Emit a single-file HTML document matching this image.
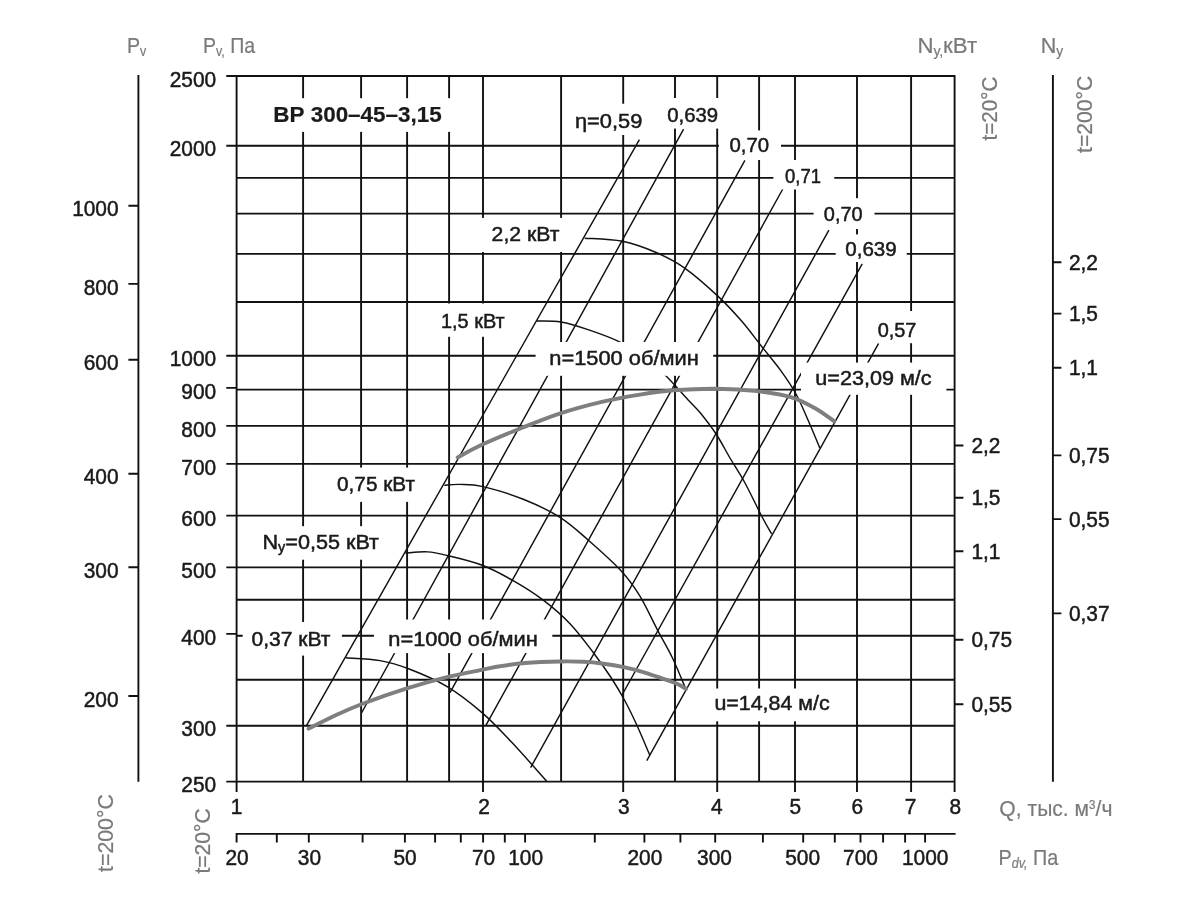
<!DOCTYPE html>
<html lang="ru"><head><meta charset="utf-8"><title>ВР 300-45-3,15</title>
<style>html,body{margin:0;padding:0;background:#fff;overflow:hidden;}svg{display:block;}</style>
</head><body>
<svg width="1194" height="924" viewBox="0 0 1194 924" font-family='"Liberation Sans", "DejaVu Sans", sans-serif' fill="#1a1a1a">
<path d="M235.65,76H955.55M235.65,145.8H955.55M235.65,177.9H955.55M235.65,213.6H955.55M235.65,253.9H955.55M235.65,302H955.55M235.65,355.8H955.55M235.65,389.6H955.55M235.65,425.9H955.55M235.65,463.9H955.55M235.65,515.6H955.55M235.65,567.4H955.55M235.65,599.7H955.55M235.65,635.8H955.55M235.65,679.8H955.55M235.65,725.8H955.55M235.65,781.6H955.55M236.6,75.05V782.55M303.1,75.05V782.55M361.1,75.05V782.55M407.1,75.05V782.55M449.1,75.05V782.55M483,75.05V782.55M561.1,75.05V782.55M623.2,75.05V782.55M675,75.05V782.55M717.2,75.05V782.55M759.1,75.05V782.55M795,75.05V782.55M857,75.05V782.55M911.1,75.05V782.55M954.6,75.05V782.55M226.3,76H236.6M226.3,145.8H236.6M226.3,355.8H236.6M226.3,387.9H236.6M226.3,425.9H236.6M226.3,463.9H236.6M226.3,515.6H236.6M226.3,567.4H236.6M226.3,633.9H236.6M226.3,725.8H236.6M226.3,781.6H236.6M236.6,781.6V792M483,781.6V792M623.2,781.6V792M717.2,781.6V792M795,781.6V792M857,781.6V792M911.1,781.6V792M954.6,781.6V792M235.65,833.9H955.6M236.6,833.9V842.5M276.8,833.9V842.5M308.8,833.9V842.5M362.6,833.9V842.5M404.9,833.9V842.5M435.1,833.9V842.5M460.8,833.9V842.5M483.1,833.9V842.5M504.8,833.9V842.5M525.1,833.9V842.5M594.8,833.9V842.5M644.4,833.9V842.5M680.4,833.9V842.5M715.2,833.9V842.5M762.9,833.9V842.5M803.2,833.9V842.5M834.8,833.9V842.5M860.5,833.9V842.5M883.1,833.9V842.5M905.1,833.9V842.5M925.1,833.9V842.5M138.4,75.05V781.7M128.4,205.7H138.4M128.4,283.9H138.4M128.4,359.7H138.4M128.4,473.7H138.4M128.4,567.3H138.4M128.4,696H138.4M1052.9,75.05V781.7M1052.9,262.3H1061.4M1052.9,313.6H1061.4M1052.9,367.8H1061.4M1052.9,455.4H1061.4M1052.9,519.1H1061.4M1052.9,613.4H1061.4M954.6,445.5H963.4M954.6,497.8H963.4M954.6,551.2H963.4M954.6,639.7H963.4M954.6,704.3H963.4" stroke="#111" stroke-width="1.9" fill="none"/>
<path d="M306.3,725.9L639.4,139.6M361.5,713L683.6,129.2M450,692.6L744.9,160.3M486,725.2L783.1,188.5M530.6,767.7L828.9,230.1M622.3,694.5L862.2,263.8M646.8,760.6L878.6,343.3" stroke="#111" stroke-width="1.45" fill="none"/>
<path d="M584.7,238.2 C590.97,238.72 610.4,238.92 622.3,241.3 C634.2,243.68 645.7,248.03 656.1,252.5 C666.5,256.97 674.32,260.75 684.7,268.1 C695.08,275.45 708.88,287.73 718.4,296.6 C727.92,305.47 734.65,313.07 741.8,321.3 C748.95,329.53 754.8,337.78 761.3,346 C767.8,354.22 775.02,362.6 780.8,370.6 C786.58,378.6 791.47,385.77 796,394 C800.53,402.23 804.03,411.02 808,420 C811.97,428.98 817.83,443.25 819.8,447.9 M536.9,321 C540.92,321.17 552.35,320.52 561,322 C569.65,323.48 578.97,326.55 588.8,329.9 C598.63,333.25 610.63,337.42 620,342.1 C629.37,346.78 637.37,352.38 645,358 C652.63,363.62 658.43,368.63 665.8,375.8 C673.17,382.97 683.5,394.88 689.2,401 C694.9,407.12 695.52,407 700,412.5 C704.48,418 711.1,426.42 716.1,434 C721.1,441.58 725.18,449.83 730,458 C734.82,466.17 739.73,473.33 745,483 C750.27,492.67 757.17,507.53 761.6,516 C766.03,524.47 769.93,530.83 771.6,533.8 M444.3,485.2 C446.92,485.07 453.53,484.17 460,484.4 C466.47,484.63 472.45,484.08 483.1,486.6 C493.75,489.12 511.08,494.38 523.9,499.5 C536.72,504.62 549.3,510.55 560,517.3 C570.7,524.05 577.82,530.98 588.1,540 C598.38,549.02 613.03,562.02 621.7,571.4 C630.37,580.78 634.15,586.57 640.1,596.3 C646.05,606.03 652,619.52 657.4,629.8 C662.8,640.08 667.73,648.05 672.5,658 C677.27,667.95 683.75,684.25 686,689.5 M405.3,553 C409,552.82 420.52,551.48 427.5,551.9 C434.48,552.32 438.07,553.27 447.2,555.5 C456.33,557.73 471.1,560.98 482.3,565.3 C493.5,569.62 504.18,575.55 514.4,581.4 C524.62,587.25 534.33,593.35 543.6,600.4 C552.87,607.45 561.85,615.18 570,623.7 C578.15,632.22 585.67,642.53 592.5,651.5 C599.33,660.47 605.58,669.25 611,677.5 C616.42,685.75 620.67,693 625,701 C629.33,709 632.85,716.43 637,725.5 C641.15,734.57 647.75,750.42 649.9,755.4 M345.7,657.8 C351.42,658.27 369.42,658.73 380,660.6 C390.58,662.47 398,664.67 409.2,669 C420.4,673.33 435.02,679.28 447.2,686.6 C459.38,693.92 471.58,703.65 482.3,712.9 C493.02,722.15 500.78,730.75 511.5,742.1 C522.22,753.45 540.75,774.52 546.6,781" stroke="#111" stroke-width="1.45" fill="none"/>
<path d="M457.7,457.4 C461.8,455.27 472.07,449.33 482.3,444.6 C492.53,439.87 506.22,434.17 519.1,429 C531.98,423.83 545.82,418.12 559.6,413.6 C573.38,409.08 588.4,405.07 601.8,401.9 C615.2,398.73 628.05,396.53 640,394.6 C651.95,392.67 660.67,391.28 673.5,390.3 C686.33,389.32 703.03,388.57 717,388.7 C730.97,388.83 745,389.7 757.3,391.1 C769.6,392.5 781.03,394.17 790.8,397.1 C800.57,400.03 808.65,404.65 815.9,408.7 C823.15,412.75 831.23,419.28 834.3,421.4 M308.6,728.6 C313.03,726.42 326.3,719.6 335.2,715.5 C344.1,711.4 349.93,708.55 362,704 C374.07,699.45 393.1,692.75 407.6,688.2 C422.1,683.65 436.47,679.78 449,676.7 C461.53,673.62 474.3,671.45 482.8,669.7 C491.3,667.95 492.95,667.32 500,666.2 C507.05,665.08 515.05,663.78 525.1,663 C535.15,662.22 550.52,661.7 560.3,661.5 C570.08,661.3 576.85,661.47 583.8,661.8 C590.75,662.13 595.3,662.6 602,663.5 C608.7,664.4 616.92,665.68 624,667.2 C631.08,668.72 638.5,670.87 644.5,672.6 C650.5,674.33 654.77,675.82 660,677.6 C665.23,679.38 671.57,681.43 675.9,683.3 C680.23,685.17 684.32,687.88 686,688.8" stroke="#7f7f7f" stroke-width="3.9" fill="none" stroke-linecap="round"/>
<rect x="262" y="98.2" width="193" height="33.7" fill="#fff"/>
<rect x="566" y="103.7" width="85" height="31.3" fill="#fff"/>
<rect x="658" y="98" width="68" height="30.6" fill="#fff"/>
<rect x="718.9" y="130.4" width="62.1" height="29.6" fill="#fff"/>
<rect x="773.4" y="160" width="60.9" height="29.5" fill="#fff"/>
<rect x="813.6" y="198.2" width="60.9" height="30.8" fill="#fff"/>
<rect x="835.7" y="234.4" width="71" height="27.6" fill="#fff"/>
<rect x="866" y="311" width="61" height="32.2" fill="#fff"/>
<rect x="801" y="362.6" width="145.4" height="32.2" fill="#fff"/>
<rect x="481" y="217.9" width="89" height="34.1" fill="#fff"/>
<rect x="431" y="303.5" width="85" height="33.3" fill="#fff"/>
<rect x="535.6" y="342" width="177.6" height="33.8" fill="#fff"/>
<rect x="327" y="467.6" width="99" height="34.3" fill="#fff"/>
<rect x="253" y="526.2" width="137" height="33.5" fill="#fff"/>
<rect x="242.7" y="622" width="99.2" height="33.6" fill="#fff"/>
<rect x="374" y="619.5" width="178.3" height="33.6" fill="#fff"/>
<rect x="703" y="688.5" width="142" height="32.8" fill="#fff"/>
<text transform="translate(273.28,122) scale(1.02,1)" font-size="22" fill="#1a1a1a" stroke="#1a1a1a" stroke-width="0.2" font-weight="bold">ВР 300–45–3,15</text>
<text transform="translate(574.96,127.8) scale(1.04,1)" font-size="21" fill="#1a1a1a" stroke="#1a1a1a" stroke-width="0.5">η=0,59</text>
<text transform="translate(667.23,121.5) scale(0.97,1)" font-size="21" fill="#1a1a1a" stroke="#1a1a1a" stroke-width="0.5">0,639</text>
<text transform="translate(729.43,152.3) scale(0.97,1)" font-size="21" fill="#1a1a1a" stroke="#1a1a1a" stroke-width="0.5">0,70</text>
<text transform="translate(785.02,182.8) scale(0.88,1)" font-size="21" fill="#1a1a1a" stroke="#1a1a1a" stroke-width="0.5">0,71</text>
<text transform="translate(823.85,221.4) scale(0.95,1)" font-size="21" fill="#1a1a1a" stroke="#1a1a1a" stroke-width="0.5">0,70</text>
<text transform="translate(845.22,256.3) scale(0.98,1)" font-size="21" fill="#1a1a1a" stroke="#1a1a1a" stroke-width="0.5">0,639</text>
<text transform="translate(877.65,336.7) scale(0.95,1)" font-size="21" fill="#1a1a1a" stroke="#1a1a1a" stroke-width="0.5">0,57</text>
<text transform="translate(815.27,385.2) scale(1.03,1)" font-size="21" fill="#1a1a1a" stroke="#1a1a1a" stroke-width="0.5">u=23,09 м/с</text>
<text transform="translate(491.59,240.9) scale(1.01,1)" font-size="21" fill="#1a1a1a" stroke="#1a1a1a" stroke-width="0.5">2,2 кВт</text>
<text transform="translate(440.95,327.5) scale(0.95,1)" font-size="21" fill="#1a1a1a" stroke="#1a1a1a" stroke-width="0.5">1,5 кВт</text>
<text transform="translate(549.26,365) scale(1.04,1)" font-size="21" fill="#1a1a1a" stroke="#1a1a1a" stroke-width="0.5">n=1500 об/мин</text>
<text transform="translate(337.01,490.8) scale(0.99,1)" font-size="21" fill="#1a1a1a" stroke="#1a1a1a" stroke-width="0.5">0,75 кВт</text>
<text transform="translate(262.45,548.7) scale(1.03,1)" font-size="21" fill="#1a1a1a" stroke="#1a1a1a" stroke-width="0.5">N<tspan font-size="14" dy="3">у</tspan><tspan dy="-3">=0,55 кВт</tspan></text>
<text transform="translate(251.6,646) scale(1,1)" font-size="21" fill="#1a1a1a" stroke="#1a1a1a" stroke-width="0.5">0,37 кВт</text>
<text transform="translate(388.26,646) scale(1.04,1)" font-size="21" fill="#1a1a1a" stroke="#1a1a1a" stroke-width="0.5">n=1000 об/мин</text>
<text transform="translate(714.38,710.4) scale(1.02,1)" font-size="21" fill="#1a1a1a" stroke="#1a1a1a" stroke-width="0.5">u=14,84 м/с</text>
<text transform="translate(126.92,53) scale(0.89,1)" font-size="22" fill="#7a7a7a" stroke="#7a7a7a" stroke-width="0.2">P<tspan font-size="14" dy="3">v</tspan></text>
<text transform="translate(202.93,53) scale(0.89,1)" font-size="22" fill="#7a7a7a" stroke="#7a7a7a" stroke-width="0.2">P<tspan font-size="14" dy="3">v,</tspan><tspan dy="-3"> Па</tspan></text>
<text transform="translate(917.49,53) scale(1.01,1)" font-size="22" fill="#7a7a7a" stroke="#7a7a7a" stroke-width="0.2">N<tspan font-size="14" dy="3">у,</tspan><tspan dy="-3">кВт</tspan></text>
<text transform="translate(1040.65,53) scale(0.98,1)" font-size="22" fill="#7a7a7a" stroke="#7a7a7a" stroke-width="0.2">N<tspan font-size="14" dy="3">у</tspan></text>
<text transform="translate(999.34,816.3) scale(0.96,1)" font-size="22" fill="#7a7a7a" stroke="#7a7a7a" stroke-width="0.2">Q, тыс. м<tspan font-size="12" dy="-7">3</tspan><tspan dy="7">/ч</tspan></text>
<text transform="translate(998.51,864.7) scale(0.9,1)" font-size="22" fill="#7a7a7a" stroke="#7a7a7a" stroke-width="0.2">P<tspan font-size="14" dy="3" font-style="italic">dv,</tspan><tspan dy="-3"> Па</tspan></text>
<text transform="translate(112.6,872) rotate(-90) scale(0.97,1) translate(0,0)" font-size="22" fill="#7a7a7a" stroke="#7a7a7a" stroke-width="0.2">t=200°C</text>
<text transform="translate(210,873.6) rotate(-90) scale(0.96,1) translate(0,0)" font-size="22" fill="#7a7a7a" stroke="#7a7a7a" stroke-width="0.2">t=20°C</text>
<text transform="translate(997.1,140.6) rotate(-90) scale(0.94,1) translate(0,0)" font-size="22" fill="#7a7a7a" stroke="#7a7a7a" stroke-width="0.2">t=20°C</text>
<text transform="translate(1092.1,152.9) rotate(-90) scale(0.96,1) translate(0,0)" font-size="22" fill="#7a7a7a" stroke="#7a7a7a" stroke-width="0.2">t=200°C</text>
<text transform="translate(216.2,86.6) scale(0.95,1)" text-anchor="end" font-size="22" stroke="#1a1a1a" stroke-width="0.5">2500</text>
<text transform="translate(216.2,156.4) scale(0.95,1)" text-anchor="end" font-size="22" stroke="#1a1a1a" stroke-width="0.5">2000</text>
<text transform="translate(216.2,366.4) scale(0.95,1)" text-anchor="end" font-size="22" stroke="#1a1a1a" stroke-width="0.5">1000</text>
<text transform="translate(216.2,398.5) scale(0.95,1)" text-anchor="end" font-size="22" stroke="#1a1a1a" stroke-width="0.5">900</text>
<text transform="translate(216.2,436.5) scale(0.95,1)" text-anchor="end" font-size="22" stroke="#1a1a1a" stroke-width="0.5">800</text>
<text transform="translate(216.2,474.5) scale(0.95,1)" text-anchor="end" font-size="22" stroke="#1a1a1a" stroke-width="0.5">700</text>
<text transform="translate(216.2,526.2) scale(0.95,1)" text-anchor="end" font-size="22" stroke="#1a1a1a" stroke-width="0.5">600</text>
<text transform="translate(216.2,578) scale(0.95,1)" text-anchor="end" font-size="22" stroke="#1a1a1a" stroke-width="0.5">500</text>
<text transform="translate(216.2,644.5) scale(0.95,1)" text-anchor="end" font-size="22" stroke="#1a1a1a" stroke-width="0.5">400</text>
<text transform="translate(216.2,736.4) scale(0.95,1)" text-anchor="end" font-size="22" stroke="#1a1a1a" stroke-width="0.5">300</text>
<text transform="translate(216.2,792.2) scale(0.95,1)" text-anchor="end" font-size="22" stroke="#1a1a1a" stroke-width="0.5">250</text>
<text transform="translate(118.6,216.3) scale(0.95,1)" text-anchor="end" font-size="22" stroke="#1a1a1a" stroke-width="0.5">1000</text>
<text transform="translate(118.6,294.5) scale(0.95,1)" text-anchor="end" font-size="22" stroke="#1a1a1a" stroke-width="0.5">800</text>
<text transform="translate(118.6,370.3) scale(0.95,1)" text-anchor="end" font-size="22" stroke="#1a1a1a" stroke-width="0.5">600</text>
<text transform="translate(118.6,484.3) scale(0.95,1)" text-anchor="end" font-size="22" stroke="#1a1a1a" stroke-width="0.5">400</text>
<text transform="translate(118.6,577.9) scale(0.95,1)" text-anchor="end" font-size="22" stroke="#1a1a1a" stroke-width="0.5">300</text>
<text transform="translate(118.6,706.6) scale(0.95,1)" text-anchor="end" font-size="22" stroke="#1a1a1a" stroke-width="0.5">200</text>
<text transform="translate(971.4,453) scale(0.95,1)" text-anchor="start" font-size="22" stroke="#1a1a1a" stroke-width="0.5">2,2</text>
<text transform="translate(971.4,505.3) scale(0.95,1)" text-anchor="start" font-size="22" stroke="#1a1a1a" stroke-width="0.5">1,5</text>
<text transform="translate(971.4,558.7) scale(0.95,1)" text-anchor="start" font-size="22" stroke="#1a1a1a" stroke-width="0.5">1,1</text>
<text transform="translate(971.4,647.2) scale(0.95,1)" text-anchor="start" font-size="22" stroke="#1a1a1a" stroke-width="0.5">0,75</text>
<text transform="translate(971.4,711.8) scale(0.95,1)" text-anchor="start" font-size="22" stroke="#1a1a1a" stroke-width="0.5">0,55</text>
<text transform="translate(1068.9,269.8) scale(0.95,1)" text-anchor="start" font-size="22" stroke="#1a1a1a" stroke-width="0.5">2,2</text>
<text transform="translate(1068.9,321.1) scale(0.95,1)" text-anchor="start" font-size="22" stroke="#1a1a1a" stroke-width="0.5">1,5</text>
<text transform="translate(1068.9,375.3) scale(0.95,1)" text-anchor="start" font-size="22" stroke="#1a1a1a" stroke-width="0.5">1,1</text>
<text transform="translate(1068.9,462.9) scale(0.95,1)" text-anchor="start" font-size="22" stroke="#1a1a1a" stroke-width="0.5">0,75</text>
<text transform="translate(1068.9,526.6) scale(0.95,1)" text-anchor="start" font-size="22" stroke="#1a1a1a" stroke-width="0.5">0,55</text>
<text transform="translate(1068.9,620.9) scale(0.95,1)" text-anchor="start" font-size="22" stroke="#1a1a1a" stroke-width="0.5">0,37</text>
<text transform="translate(236.5,814.2) scale(0.95,1)" text-anchor="middle" font-size="22" stroke="#1a1a1a" stroke-width="0.5">1</text>
<text transform="translate(484,814.2) scale(0.95,1)" text-anchor="middle" font-size="22" stroke="#1a1a1a" stroke-width="0.5">2</text>
<text transform="translate(623.7,814.2) scale(0.95,1)" text-anchor="middle" font-size="22" stroke="#1a1a1a" stroke-width="0.5">3</text>
<text transform="translate(716.8,814.2) scale(0.95,1)" text-anchor="middle" font-size="22" stroke="#1a1a1a" stroke-width="0.5">4</text>
<text transform="translate(795.3,814.2) scale(0.95,1)" text-anchor="middle" font-size="22" stroke="#1a1a1a" stroke-width="0.5">5</text>
<text transform="translate(857.2,814.2) scale(0.95,1)" text-anchor="middle" font-size="22" stroke="#1a1a1a" stroke-width="0.5">6</text>
<text transform="translate(910.6,814.2) scale(0.95,1)" text-anchor="middle" font-size="22" stroke="#1a1a1a" stroke-width="0.5">7</text>
<text transform="translate(955.2,814.2) scale(0.95,1)" text-anchor="middle" font-size="22" stroke="#1a1a1a" stroke-width="0.5">8</text>
<text transform="translate(237,864.8) scale(0.95,1)" text-anchor="middle" font-size="22" stroke="#1a1a1a" stroke-width="0.5">20</text>
<text transform="translate(309.4,864.8) scale(0.95,1)" text-anchor="middle" font-size="22" stroke="#1a1a1a" stroke-width="0.5">30</text>
<text transform="translate(405,864.8) scale(0.95,1)" text-anchor="middle" font-size="22" stroke="#1a1a1a" stroke-width="0.5">50</text>
<text transform="translate(483.5,864.8) scale(0.95,1)" text-anchor="middle" font-size="22" stroke="#1a1a1a" stroke-width="0.5">70</text>
<text transform="translate(525.6,864.8) scale(0.95,1)" text-anchor="middle" font-size="22" stroke="#1a1a1a" stroke-width="0.5">100</text>
<text transform="translate(644.9,864.8) scale(0.95,1)" text-anchor="middle" font-size="22" stroke="#1a1a1a" stroke-width="0.5">200</text>
<text transform="translate(714.5,864.8) scale(0.95,1)" text-anchor="middle" font-size="22" stroke="#1a1a1a" stroke-width="0.5">300</text>
<text transform="translate(802.6,864.8) scale(0.95,1)" text-anchor="middle" font-size="22" stroke="#1a1a1a" stroke-width="0.5">500</text>
<text transform="translate(860.5,864.8) scale(0.95,1)" text-anchor="middle" font-size="22" stroke="#1a1a1a" stroke-width="0.5">700</text>
<text transform="translate(925.2,864.8) scale(0.95,1)" text-anchor="middle" font-size="22" stroke="#1a1a1a" stroke-width="0.5">1000</text>
</svg>
</body></html>
